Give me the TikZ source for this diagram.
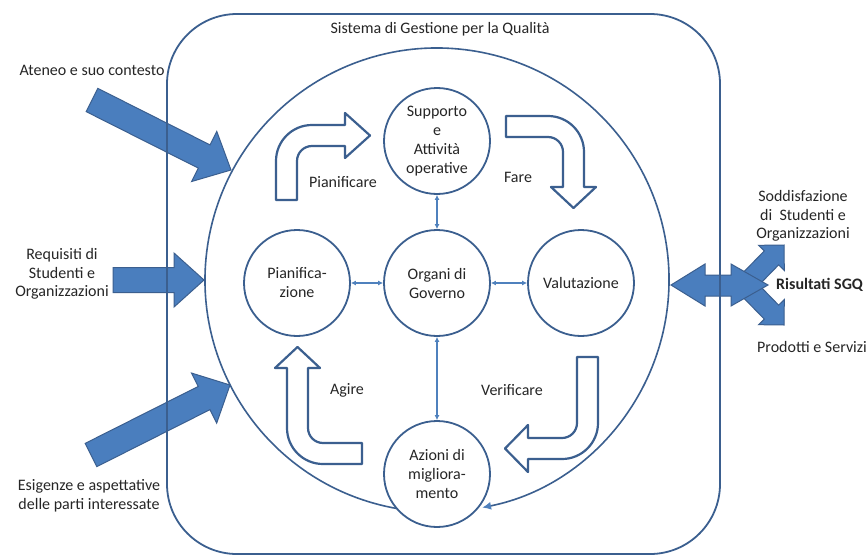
\documentclass[tikz,border=0pt]{standalone}
\usepackage{fontspec}
\setmainfont{Carlito}
\usetikzlibrary{calc,arrows.meta}
\definecolor{lineblue}{HTML}{3B5F8F}
\definecolor{fillblue}{HTML}{4A7EBE}
\definecolor{arrowblue}{HTML}{4F81BD}
\definecolor{textgray}{HTML}{262626}
\tikzset{
  every node/.style={font=\fontsize{16}{18.5}\selectfont, text=textgray},
  stage/.style={circle, draw=lineblue, line width=1.8pt, fill=white, minimum size=106pt, inner sep=0pt, align=center,
    font=\fontsize{16}{19}\selectfont},
  link/.style={draw=arrowblue, line width=1.2pt, {Latex[length=5pt,width=5pt]}-{Latex[length=5pt,width=5pt]}},
  uarrow/.style={draw=lineblue, line width=2.2pt, fill=white, line join=round},
  bluearrow/.style={fill=fillblue, draw=lineblue, line width=1pt, line join=miter},
  frame/.style={draw=lineblue, line width=1.8pt, rounded corners=70pt},
  cycleline/.style={draw=lineblue, line width=1.6pt, -{Latex[length=9pt,width=8pt,color=arrowblue]}},
  lbl/.style={align=center, inner sep=0pt},
}
\newcommand\blockarrow[5]{%
  \coordinate (hb) at ($(#2)!#5!(#1)$);
  \draw[bluearrow] ($(#1)!#3!90:(#2)$) -- ($(hb)!#3!90:(#2)$) -- ($(hb)!#4!90:(#2)$) -- (#2)
    -- ($(hb)!#4!-90:(#2)$) -- ($(hb)!#3!-90:(#2)$) -- ($(#1)!#3!-90:(#2)$) -- cycle;}
\begin{document}
\begin{tikzpicture}[x=1pt,y=-1pt]
\useasboundingbox (0,0) rectangle (866,559);
\fill[white] (0,0) rectangle (866,559);

% input arrows
\coordinate (atT) at (92,100);  \coordinate (atP) at (231,170);
\coordinate (reT) at (113,280); \coordinate (reP) at (204,280);
\coordinate (esT) at (91,455);  \coordinate (esP) at (230,385);
\blockarrow{atT}{atP}{13pt}{28pt}{30pt}
\blockarrow{reT}{reP}{12.5pt}{27pt}{30pt}
\blockarrow{esT}{esP}{13pt}{28pt}{29pt}

% output arrows
\coordinate (oc) at (745,285);
\coordinate (upP) at (784,245);
\coordinate (dnP) at (784,325);
\blockarrow{oc}{upP}{10pt}{18pt}{18pt}
\blockarrow{oc}{dnP}{10pt}{18pt}{18pt}
\draw[bluearrow] (671,285) -- (705,264) -- (705,275) -- (731,275) -- (731,264) -- (768,285)
  -- (731,306) -- (731,296) -- (705,296) -- (705,306) -- cycle;

% frame
\draw[frame] (167,14) rectangle (720,554);
\node[lbl] (title) at (440,29) {Sistema di Gestione per la Qualità};

% big cycle
\coordinate (cen) at (437,280);
\draw[cycleline] ([shift={(99.9:232)}]cen) arc[start angle=99.9, end angle=438.8, radius=232];

% U-turn arrows
\draw[uarrow] (276,200) -- (276,161) arc[start angle=180, end angle=270, radius=36] -- (345,125) -- (345,113)
  -- (370,135.5) -- (345,158) -- (345,146) -- (312,146) arc[start angle=270, end angle=180, radius=15] -- (297,200) -- cycle;
\draw[uarrow] (506,116) -- (548,116) arc[start angle=270, end angle=360, radius=36] -- (584,187) -- (596,187)
  -- (573.5,208) -- (551,187) -- (563,187) -- (563,152) arc[start angle=0, end angle=-90, radius=15] -- (506,137) -- cycle;
\draw[uarrow] (362,464) -- (323,464) arc[start angle=90, end angle=180, radius=36] -- (287,368) -- (275,368)
  -- (297.5,347) -- (320,368) -- (308,368) -- (308,428) arc[start angle=180, end angle=90, radius=15] -- (362,443) -- cycle;
\draw[uarrow] (577,357) -- (598,357) -- (598,423) arc[start angle=0, end angle=90, radius=36] -- (528,459) -- (528,472)
  -- (505,448.5) -- (528,425) -- (528,438) -- (562,438) arc[start angle=90, end angle=0, radius=15] -- cycle;

% stages
\node[stage] (sup) at (437,141) {Supporto\\e\\Attività\\operative};
\node[stage] (pia) at (297,283) {Pianifica-\\zione};
\node[stage] (org) at (437,283) {Organi di\\Governo};
\node[stage] (val) at (581,283) {Valutazione};
\node[stage] (azi) at (437,474) {Azioni di\\migliora-\\mento};

\draw[link] (sup) -- (org);
\draw[link] (pia) -- (org);
\draw[link] (org) -- (val);
\draw[link] (org) -- (azi);

% labels
\node[lbl] (lpia) at (343,182) {Pianificare};
\node[lbl] (lfar) at (518,177) {Fare};
\node[lbl] (lagi) at (347,390) {Agire};
\node[lbl] (lver) at (512,390) {Verificare};

\node[lbl] (ate) at (92,70) {Ateneo e suo contesto};
\node[lbl] (req) at (62,274) {Requisiti di\\Studenti e\\Organizzazioni};
\node[lbl] (esi) at (89,496) {Esigenze e aspettative\\delle parti interessate};

\node[lbl] (sod) at (803,216) {Soddisfazione\\di~~Studenti e\\Organizzazioni};
\node[lbl, anchor=west, font=\fontsize{16}{18.5}\selectfont\bfseries] (ris) at (776,285) {Risultati SGQ};
\node[lbl, anchor=west] (pro) at (757,347) {Prodotti e Servizi};
\end{tikzpicture}
\end{document}
